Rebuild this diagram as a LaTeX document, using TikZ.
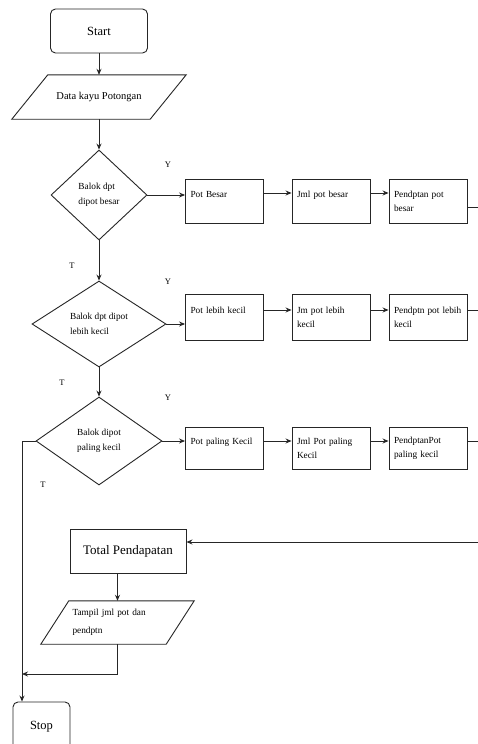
\documentclass[tikz,border=0pt]{standalone}
\usepackage{fontspec}
\setmainfont{Liberation Serif}
\usetikzlibrary{shapes.geometric,arrows.meta}
\begin{document}
\begin{tikzpicture}[x=1pt,y=-1pt,
  line/.style={draw=black!85, line width=0.9pt},
  arr/.style={line, -{Stealth[length=6pt,width=5pt]}},
  proc/.style={line, rectangle, minimum width=78pt, minimum height=#1, text width=68pt,
    inner xsep=5pt, inner ysep=0pt, align=left, font=\fontsize{9.3}{14}\selectfont},
  proc/.default=44pt,
  term/.style={line, rectangle, rounded corners=5pt, font=\fontsize{12.5}{14}\selectfont},
  dec/.style={line, diamond, inner sep=0pt, align=left, font=\fontsize{9.3}{15}\selectfont},
  io/.style={rectangle, inner sep=0pt},
  lbl/.style={font=\fontsize{8.5}{10}\selectfont}
]
\clip (0,0) rectangle (478,744);
\fill[white] (0,0) rectangle (478,744);

% start and input
\node[term, minimum width=97pt, minimum height=44pt] (start) at (99,31) {Start};
\node[io, minimum width=138pt, minimum height=44pt, font=\fontsize{10.5}{12}\selectfont] (data) at (99,97) {Data kayu Potongan};
\draw[line] ([xshift=18pt]data.north west) -- ([xshift=18pt]data.north east)
  -- ([xshift=-18pt]data.south east) -- ([xshift=-18pt]data.south west) -- cycle;

% decisions
\node[dec, minimum width=96pt, minimum height=90pt] (d1) at (99,195) {Balok dpt\\dipot besar};
\node[dec, minimum width=134pt, minimum height=86pt] (d2) at (99,324) {Balok dpt dipot\\lebih kecil};
\node[dec, minimum width=126pt, minimum height=88pt] (d3) at (99,441) {Balok dipot\\paling kecil};

% row 1
\node[proc] (b1) at (224.5,201) {Pot Besar\\\mbox{}};
\node[proc] (b2) at (331,201) {Jml pot besar\\\mbox{}};
\node[proc] (b3) at (428,201) {Pendptan pot\\besar};
% row 2
\node[proc=46pt] (b4) at (224.5,317) {Pot lebih kecil\\\mbox{}};
\node[proc=46pt] (b5) at (331,317) {Jm pot lebih\\kecil};
\node[proc=46pt] (b6) at (428,317) {\mbox{Pendptn pot lebih}\\kecil};
% row 3
\node[proc=42pt] (b7) at (224.5,448) {Pot paling Kecil\\\mbox{}};
\node[proc=42pt] (b8) at (331,448) {Jml Pot paling\\Kecil};
\node[proc=42pt] (b9) at (428,448) {PendptanPot\\paling kecil};

% total, output, stop
\node[line, rectangle, minimum width=116pt, minimum height=44pt, font=\fontsize{13}{15}\selectfont] (total) at (128,551) {Total Pendapatan};
\node[io, minimum width=125pt, minimum height=43pt, text width=90pt, align=left,
  font=\fontsize{9.3}{18}\selectfont] (out) at (117.5,622.5) {Tampil jml pot dan\\pendptn};
\draw[line] ([xshift=14pt]out.north west) -- ([xshift=14pt]out.north east)
  -- ([xshift=-14pt]out.south east) -- ([xshift=-14pt]out.south west) -- cycle;
\node[term, minimum width=57pt, minimum height=50pt] (stop) at (41.5,727) {\raisebox{1pt}{Stop}};

% labels
\node[lbl] (y1) at (168,165) {Y};
\node[lbl] (y2) at (168,282) {Y};
\node[lbl] (y3) at (168,398) {Y};
\node[lbl] (t1) at (72,266) {T};
\node[lbl] (t2) at (62,383) {T};
\node[lbl] (t3) at (43,485) {T};

% free ends
\coordinate (e1) at (478,207);
\coordinate (e2) at (478,310);
\coordinate (e3) at (478,441);
\coordinate (e4) at (478,542);
\coordinate (lx) at (22,441);
\coordinate (j) at (117.5,674);

% connectors
\draw[arr] (start.south) -- (data.north);
\draw[arr] (data.south) -- (d1.north);
\draw[arr] (d1.south) -- (d2.north);
\draw[arr] (d2.south) -- (d3.north);

\draw[arr] (d1.east) -- (d1.east -| b1.west);
\draw[arr] ([yshift=8pt]b1.east) -- ([yshift=8pt]b2.west);
\draw[arr] ([yshift=8pt]b2.east) -- ([yshift=8pt]b3.west);
\draw[line] (b3.east |- e1) -- (e1);

\draw[arr] (d2.east) -- (d2.east -| b4.west);
\draw[arr] ([yshift=7pt]b4.east) -- ([yshift=7pt]b5.west);
\draw[arr] ([yshift=7pt]b5.east) -- ([yshift=7pt]b6.west);
\draw[line] (b6.east |- e2) -- (e2);

\draw[arr] (d3.east) -- (d3.east -| b7.west);
\draw[arr] (b7.east |- d3.east) -- (b8.west |- d3.east);
\draw[arr] (b8.east |- d3.east) -- (b9.west |- d3.east);
\draw[line] (b9.east |- e3) -- (e3);

\draw[arr] (e4) -- (e4 -| total.east);
\draw[arr] (total.south -| out.north) -- (out.north);
\draw[arr] (out.south) -- (j) -- (lx |- j);
\draw[arr] (d3.west) -- (lx) -- (lx |- stop.north);
\end{tikzpicture}
\end{document}
